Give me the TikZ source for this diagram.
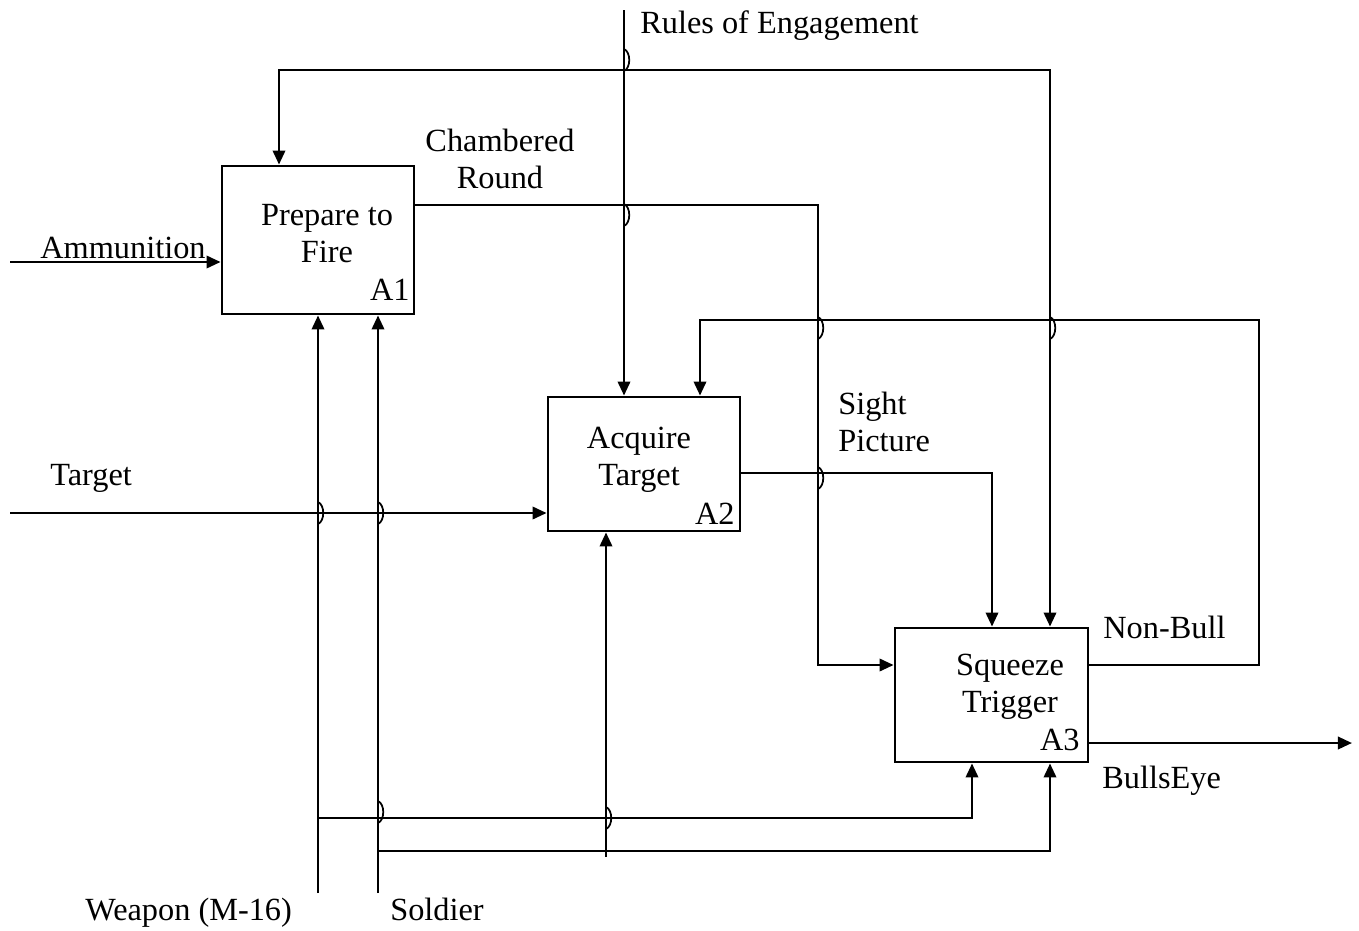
\documentclass[tikz,border=0pt]{standalone}
\usepackage{fontspec}
\setmainfont{Liberation Serif}
\usetikzlibrary{positioning,arrows.meta,calc}

\newcommand\hop[2]{\draw[line width=1pt] (#1,#2-11) .. controls (#1+7,#2-8) and (#1+7,#2+8) .. (#1,#2+11);}

\begin{document}
\begin{tikzpicture}[
  x=0.02cm, y=-0.02cm,
  font=\fontsize{18.4}{21}\selectfont,
  box/.style={draw, line width=1.6pt, inner sep=0pt},
  txt/.style={inner sep=0pt, align=center},
  lbl/.style={inner sep=0pt, anchor=base west},
  arr/.style={line width=1.5pt, -{Triangle[length=8pt,width=7pt]}},
  arr2/.style={line width=1.5pt, {Triangle[length=8pt,width=7pt]}-{Triangle[length=8pt,width=7pt]}},
]
\useasboundingbox (0,0) rectangle (1359,930);

\node[box, minimum width=3.84cm, minimum height=2.96cm] (a1) at (318,240) {};
\node[box, minimum width=3.84cm, minimum height=2.68cm] (a2) at (644,464) {};
\node[box, minimum width=3.86cm, minimum height=2.68cm] (a3) at (991.5,695) {};
\node[txt] (a1t) at (327,234) {Prepare to\\Fire};
\node[txt] (a2t) at (639,460) {Acquire\\Target};
\node[txt] (a3t) at (1010,687) {Squeeze\\Trigger};
\node[inner sep=0pt, anchor=base east] (a1n) at (410,300) {A1};
\node[inner sep=0pt, anchor=base east] (a2n) at (735,524) {A2};
\node[inner sep=0pt, anchor=base east] (a3n) at (1080,750) {A3};

\coordinate (roe) at (624,10);
\coordinate (fbl) at (279,70);
\coordinate (fbr) at (1050,70);
\coordinate (crt) at (818,205);
\coordinate (crb) at (818,665);
\coordinate (nbr) at (1259,320);
\coordinate (nbl) at (700,320);
\coordinate (sp) at (992,473);
\coordinate (be) at (1352,743);
\coordinate (am) at (10,262);
\coordinate (tg) at (10,513);
\coordinate (wp) at (318,893);
\coordinate (wpb) at (318,818);
\coordinate (wpa3) at (972,818);
\coordinate (sd) at (378,893);
\coordinate (sdb) at (378,851);
\coordinate (sda3) at (1050,851);
\coordinate (sda2) at (606,857);

\draw[arr] (roe) -- (roe |- a2.north);
\draw[arr2] (fbl |- a1.north) -- (fbl) -- (fbr) -- (fbr |- a3.north);
\draw[arr] (a1.east |- crt) -- (crt) |- (a3.west |- crb);
\draw[arr] (a3.east |- crb) -| (nbr) -- (nbl) -- (nbl |- a2.north);
\draw[arr] (a2.east |- sp) -| (a3.north -| sp);
\draw[arr] (a3.east |- be) -- (be);
\draw[arr] (am) -- (a1.west |- am);
\draw[arr] (tg) -- (a2.west |- tg);
\draw[arr] (wp) -- (wp |- a1.south);
\draw[arr] (wpb) -- (wpa3) -- (wpa3 |- a3.south);
\draw[arr] (sd) -- (sd |- a1.south);
\draw[arr] (sdb) -- (sda3) -- (sda3 |- a3.south);
\draw[arr] (sda2) -- (sda2 |- a2.south);

\hop{624}{60}
\hop{624}{215}
\hop{818}{328}
\hop{818}{478}
\hop{1050}{328}
\hop{318}{513}
\hop{378}{513}
\hop{378}{812}
\hop{606}{818}

\node[lbl] (roel) at (640,33) {Rules of Engagement};
\node[txt] (crl) at (500,159) {Chambered\\Round};
\node[lbl] (aml) at (40,258) {Ammunition};
\node[lbl] (tgl) at (50,485) {Target};
\node[txt, align=left, anchor=west] (spl) at (838,422) {Sight\\Picture};
\node[lbl] (nbll) at (1103,638) {Non-Bull};
\node[lbl] (bel) at (1102,788) {BullsEye};
\node[lbl] (wpl) at (85,920) {Weapon (M-16)};
\node[lbl] (sdl) at (390,920) {Soldier};
\end{tikzpicture}
\end{document}
